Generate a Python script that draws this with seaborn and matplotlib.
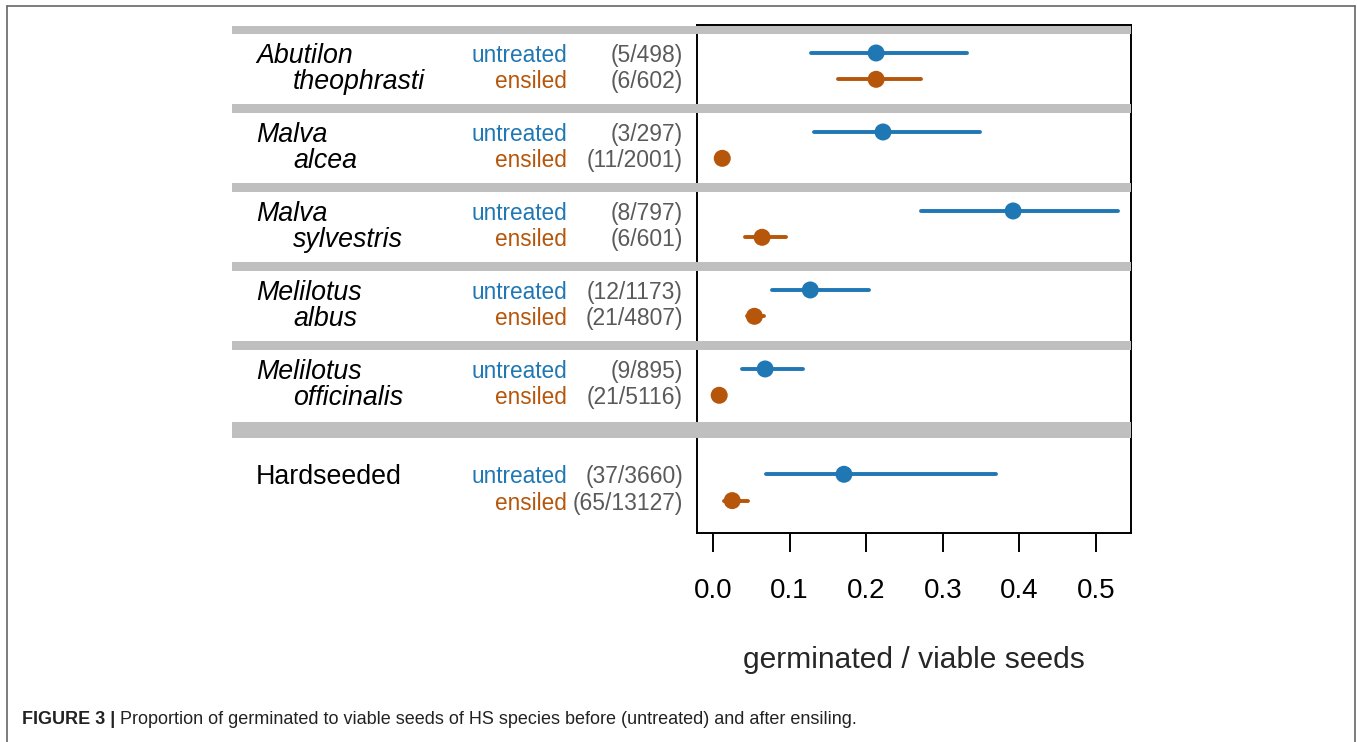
import numpy as np
import pandas as pd
import matplotlib
matplotlib.use("Agg")
import matplotlib.pyplot as plt
import matplotlib.transforms as mtransforms
from matplotlib.patches import Rectangle
from matplotlib.lines import Line2D
import seaborn as sns

# ---------------- data ----------------
genus = ["Abutilon", "Malva", "Malva", "Melilotus", "Melilotus", "Hardseeded"]
epithet = ["theophrasti", "alcea", "sylvestris", "albus", "officinalis", ""]
treatments = ["untreated", "ensiled"]
counts_untreated = ["(5/498)", "(3/297)", "(8/797)", "(12/1173)", "(9/895)", "(37/3660)"]
counts_ensiled = ["(6/602)", "(11/2001)", "(6/601)", "(21/4807)", "(21/5116)", "(65/13127)"]

est_untreated = [0.213, 0.222, 0.392, 0.127, 0.068, 0.171]
lo_untreated = [0.128, 0.132, 0.272, 0.077, 0.038, 0.069]
hi_untreated = [0.332, 0.349, 0.529, 0.204, 0.117, 0.369]

est_ensiled = [0.213, 0.012, 0.064, 0.054, 0.008, 0.025]
lo_ensiled = [0.163, 0.010, 0.042, 0.044, 0.007, 0.014]
hi_ensiled = [0.272, 0.014, 0.095, 0.067, 0.009, 0.045]

x_ticks = [0.0, 0.1, 0.2, 0.3, 0.4, 0.5]
x_label = "germinated / viable seeds"
caption_bold = "FIGURE 3 |"
caption_text = "Proportion of germinated to viable seeds of HS species before (untreated) and after ensiling."

# ---------------- style ----------------
sns.set_style("white")
plt.rcParams["font.family"] = ["Liberation Sans", "DejaVu Sans"]

BLUE = "#1f77b4"
ORANGE = "#b5560b"
BAND = "#bfbfbf"
CNT = "#5a5a5a"

W, H = 1357, 742
fig = plt.figure(figsize=(W / 100, H / 100), dpi=100)

def fx(px):
    return px / W

def fy(py):
    return 1 - py / H

ax = fig.add_axes([fx(697), fy(533), fx(1131) - fx(697), fy(25) - fy(533)])

# row positions
group_pos = [0, 3, 6, 9, 12, 16]
rows = []
for g in range(len(genus)):
    rows.append(dict(g=g, treat="untreated", y=group_pos[g], est=est_untreated[g],
                     lo=lo_untreated[g], hi=hi_untreated[g], cnt=counts_untreated[g]))
    rows.append(dict(g=g, treat="ensiled", y=group_pos[g] + 1, est=est_ensiled[g],
                     lo=lo_ensiled[g], hi=hi_ensiled[g], cnt=counts_ensiled[g]))
df = pd.DataFrame(rows)
palette = {"untreated": BLUE, "ensiled": ORANGE}

ax.set_xlim(-0.021, 0.546)
ax.set_ylim(18.23, -1.063)

# background bands (extend into label area)
trans = mtransforms.blended_transform_factory(fig.transFigure, ax.transData)
band_centers = [-0.874, 2.126, 5.126, 8.126, 11.126]
for c in band_centers:
    fig.patches.append(Rectangle((fx(232), c - 0.17), fx(1131) - fx(232), 0.34,
                                 transform=trans, color=BAND, lw=0, zorder=0))
fig.patches.append(Rectangle((fx(232), 14.32 - 0.30), fx(1131) - fx(232), 0.60,
                             transform=trans, color=BAND, lw=0, zorder=0))

# CIs
for _, r in df.iterrows():
    ax.plot([r.lo, r.hi], [r.y, r.y], color=palette[r.treat], lw=2.8,
            solid_capstyle="round", zorder=3)
# points
sns.scatterplot(data=df, x="est", y="y", hue="treat", palette=palette, s=150,
                edgecolor="none", legend=False, ax=ax, zorder=4)

ax.set_ylabel("")
ax.set_yticks([])
ax.set_xticks(x_ticks)
ax.set_xticklabels([f"{v:.1f}" for v in x_ticks], fontsize=20)
ax.tick_params(axis="x", bottom=True, direction="out", length=13.5, width=1.4, pad=19,
               colors="black")
ax.set_xlabel(x_label, fontsize=21.6, labelpad=30)
for s in ax.spines.values():
    s.set_color("black")
    s.set_linewidth(1.4)
ax.patch.set_alpha(0)

# left-side labels
for _, r in df.iterrows():
    g = int(r.g)
    if r.treat == "untreated":
        style = "normal" if genus[g] == "Hardseeded" else "italic"
        fig.text(fx(256), r.y, genus[g], transform=trans, fontsize=19.3, style=style,
                 ha="left", va="center_baseline", color="black")
    elif epithet[g]:
        fig.text(fx(293), r.y, epithet[g], transform=trans, fontsize=19.3, style="italic",
                 ha="left", va="center_baseline", color="black")
    fig.text(fx(567), r.y, r.treat, transform=trans, fontsize=16.3, ha="right",
             va="center_baseline", color=palette[r.treat])
    fig.text(fx(683), r.y, r.cnt, transform=trans, fontsize=16.5, ha="right",
             va="center_baseline", color=CNT)

# outer frame
fc = "#666666"
fig.add_artist(Line2D([fx(7), fx(7)], [fy(6), 0], transform=fig.transFigure, color=fc, lw=1.2))
fig.add_artist(Line2D([fx(7), fx(1355)], [fy(6), fy(6)], transform=fig.transFigure, color=fc, lw=1.2))
fig.add_artist(Line2D([fx(1355), fx(1355)], [fy(6), 0], transform=fig.transFigure, color=fc, lw=1.2))

# caption
t1 = fig.text(fx(22), fy(720), caption_bold, fontsize=13.0, fontweight="bold",
              ha="left", va="center", color="#222222")
ax.annotate(" " + caption_text, xy=(1, 0.5), xycoords=t1, ha="left", va="center",
            fontsize=13.0, color="#222222", annotation_clip=False)

fig.savefig("out.png", dpi=100)
